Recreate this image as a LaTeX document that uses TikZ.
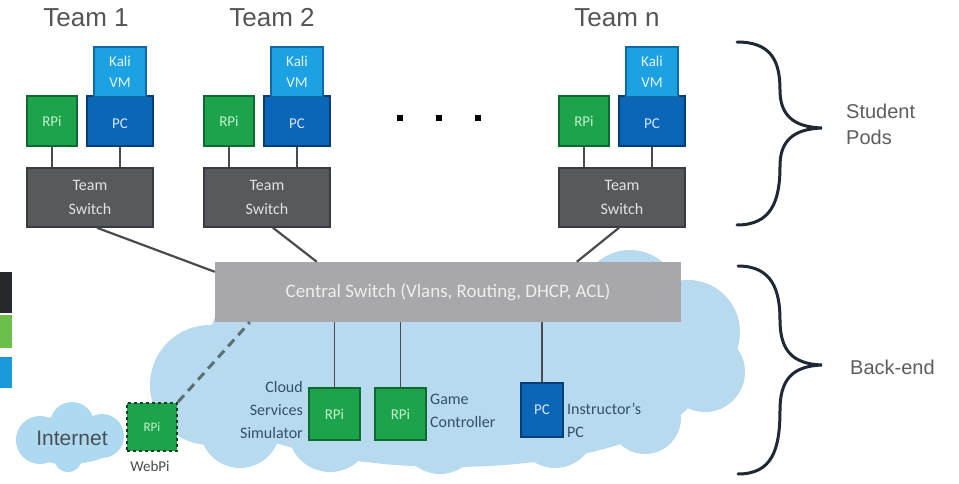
\documentclass[tikz,border=0pt]{standalone}
\usepackage{fontspec}
\setmainfont{Carlito}
\newfontfamily\headfont{Liberation Sans}
\definecolor{rpifill}{HTML}{1CA34C}
\definecolor{rpiedge}{HTML}{0E6A31}
\definecolor{rpitext}{HTML}{C4F2C8}
\definecolor{pcfill}{HTML}{0B66B8}
\definecolor{pcedge}{HTML}{083E78}
\definecolor{pctext}{HTML}{D4E6FA}
\definecolor{kalifill}{HTML}{1CA2E2}
\definecolor{kaliedge}{HTML}{0D6AA6}
\definecolor{kalitext}{HTML}{E4F4FF}
\definecolor{swfill}{HTML}{58595C}
\definecolor{swedge}{HTML}{3A3B3E}
\definecolor{swtext}{HTML}{E2E2E2}
\definecolor{csfill}{HTML}{A8A8AA}
\definecolor{cstext}{HTML}{EEEEEE}
\definecolor{cloudcol}{HTML}{B7DAEE}
\definecolor{netcloud}{HTML}{ADD9F1}
\definecolor{wirecol}{HTML}{4A4B4E}
\definecolor{teamcol}{HTML}{555555}
\definecolor{sidecol}{HTML}{5E5E5E}
\definecolor{notecol}{HTML}{34506C}
\definecolor{bracecol}{HTML}{1E2935}
\definecolor{stripdark}{HTML}{26282C}
\definecolor{stripgreen}{HTML}{6CBF4A}
\definecolor{stripblue}{HTML}{1A9AD8}
\definecolor{webedge}{HTML}{1B3A22}
\definecolor{dashcol}{HTML}{5A6E7C}
\definecolor{webtext}{HTML}{4A4A4A}
\definecolor{inettext}{HTML}{4A4F55}
\begin{document}
\begin{tikzpicture}[x=1pt,y=-1pt,
  rpibox/.style={draw=rpiedge,fill=rpifill,line width=1.6pt,minimum width=50pt,minimum height=50pt,inner sep=0pt,text=rpitext,font=\fontsize{15}{17}\selectfont},
  pcbox/.style={draw=pcedge,fill=pcfill,line width=1.6pt,minimum width=66pt,minimum height=50pt,inner sep=0pt,text=pctext,font=\fontsize{15}{17}\selectfont},
  kalibox/.style={draw=kaliedge,fill=kalifill,line width=1.4pt,minimum width=52pt,minimum height=50pt,inner sep=0pt,text=kalitext,align=center,font=\fontsize{15}{21}\selectfont},
  tswitch/.style={draw=swedge,fill=swfill,line width=1.6pt,minimum width=126pt,minimum height=59pt,inner sep=0pt,text=swtext,align=center,font=\fontsize{16}{24}\selectfont},
  wire/.style={draw=wirecol,line width=2.2pt},
  thinwire/.style={draw=wirecol,line width=1.6pt},
  teamlabel/.style={font=\headfont\fontsize{26}{30}\selectfont,text=teamcol,inner sep=0pt},
  sidelabel/.style={font=\headfont\fontsize{20}{26}\selectfont,text=sidecol,align=left,anchor=west,inner sep=0pt},
  note/.style={font=\fontsize{16}{23}\selectfont,text=notecol,inner sep=0pt},
  bracecurve/.style={draw=bracecol,line width=3pt,line cap=round},
  dotmark/.style={fill=black,minimum size=6pt,inner sep=0pt}
]
\useasboundingbox (0,0) rectangle (959,484);
\fill[white] (0,0) rectangle (959,484);

% strip of another graphic at the left edge
\fill[stripdark] (0,272) rectangle (12,313);
\fill[stripgreen] (0,315) rectangle (12,348);
\fill[stripblue] (0,357) rectangle (12,388);

% back-end cloud
\begin{scope}[fill=cloudcol]
  \fill (450,382) ellipse [x radius=250pt,y radius=85pt];
  \fill (210,385) circle (60pt);
  \fill (255,338) circle (45pt);
  \fill (630,300) circle (50pt);
  \fill (688,332) circle (52pt);
  \fill (705,372) circle (40pt);
  \fill (645,418) circle (36pt);
  \fill (555,428) circle (40pt);
  \fill (440,434) circle (40pt);
  \fill (330,430) circle (42pt);
  \fill (240,428) circle (40pt);
\end{scope}

% internet cloud
\begin{scope}[fill=netcloud]
  \fill (68,440) ellipse [x radius=52pt,y radius=24pt];
  \fill (40,440) circle (24pt);
  \fill (72,424) circle (22pt);
  \fill (102,436) circle (22pt);
  \fill (68,458) circle (14pt);
\end{scope}

% team titles
\node[teamlabel] (tt1) at (86,18) {Team 1};
\node[teamlabel] (tt2) at (272,18) {Team 2};
\node[teamlabel] (ttn) at (617,18) {Team n};

% student pods
\foreach \id/\dx in {1/0,2/177,n/532}{
  \node[tswitch] (s\id) at (90+\dx,197.5) {Team\\Switch};
  \node[rpibox] (r\id) at (52+\dx,121) {RPi};
  \node[pcbox] (p\id) at (120+\dx,121) {};
  \node[kalibox] (k\id) at (120+\dx,72) {Kali\\VM};
  \node[text=pctext,font=\fontsize{15}{17}\selectfont,inner sep=0pt] (pl\id) at (120+\dx,124) {PC};
  \draw[thinwire] (r\id.south) -- (r\id.south |- s\id.north);
  \draw[thinwire] (p\id.south) -- (p\id.south |- s\id.north);
}

% ellipsis between pods
\node[dotmark] (d1) at (400,118) {};
\node[dotmark] (d2) at (439,118) {};
\node[dotmark] (d3) at (478,118) {};

% central switch
\node[fill=csfill,minimum width=466pt,minimum height=60pt,inner sep=0pt,text=cstext,font=\fontsize{19}{22}\selectfont] (cs) at (448,292) {Central Switch (Vlans, Routing, DHCP, ACL)};

\draw[wire] ([xshift=7pt]s1.south) -- ([yshift=-10pt]cs.north west);
\draw[wire] ([xshift=6pt]s2.south) -- ([xshift=102pt]cs.north west);
\draw[wire] ([xshift=-3pt]sn.south) -- ([xshift=362pt]cs.north west);

% back-end devices
\node[rpibox,minimum width=51pt,minimum height=52pt] (cr) at (334.5,414) {RPi};
\node[rpibox,minimum width=51pt,minimum height=52pt] (gr) at (400.5,414) {RPi};
\node[pcbox,minimum width=42pt,minimum height=54pt] (ip) at (542,410) {PC};
\node[rpibox,dashed,draw=webedge,line width=2pt,minimum width=50pt,minimum height=48pt,font=\fontsize{13}{15}\selectfont] (wp) at (152,427) {RPi};

\draw[thinwire] (cr.north) -- (cr.north |- cs.south);
\draw[thinwire] (gr.north) -- (gr.north |- cs.south);
\draw[thinwire] (ip.north) -- (ip.north |- cs.south);
\draw[draw=dashcol,line width=3pt,dash pattern=on 9pt off 6pt] (wp.north east) -- ([xshift=35pt]cs.south west);

% captions of back-end devices
\node[note,align=right,anchor=east] (crl) at (303,410) {Cloud\\Services\\Simulator};
\node[note,align=left,anchor=west] (grl) at (430,411) {Game\\Controller};
\node[note,align=left,anchor=west] (ipl) at (567,420) {Instructor's\\PC};
\node[note,text=webtext,font=\fontsize{15}{17}\selectfont] (wpl) at (150,466) {WebPi};
\node[font=\headfont\fontsize{21}{24}\selectfont,text=inettext,inner sep=0pt] (inet) at (72,438) {Internet};

% grouping braces
\draw[bracecurve] (737,42) .. controls (772,42) and (780,62) .. (780,90)
  .. controls (780,114) and (792,127) .. (822,128)
  .. controls (792,129) and (780,142) .. (780,166)
  .. controls (780,200) and (772,225) .. (737,225);
\draw[bracecurve] (738,266) .. controls (772,266) and (780,290) .. (780,320)
  .. controls (780,350) and (792,364) .. (822,365)
  .. controls (792,366) and (780,380) .. (780,410)
  .. controls (780,450) and (772,474) .. (738,474);

\node[sidelabel] (pods) at (846,124) {Student\\Pods};
\node[sidelabel] (back) at (850,367) {Back-end};
\end{tikzpicture}
\end{document}
